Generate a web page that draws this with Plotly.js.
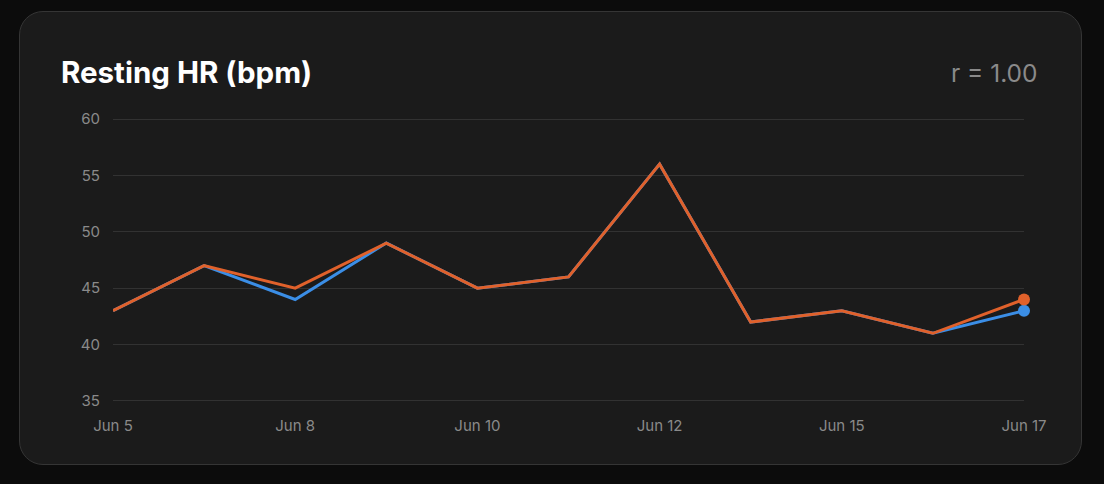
<!DOCTYPE html>
<html>
<head>
<meta charset="utf-8">
<script src="https://cdn.plot.ly/plotly-3.0.1.min.js"></script>
<style>
  html, body { margin: 0; padding: 0; background: #0c0c0c; width: 1104px; height: 484px; overflow: hidden; }
  #card {
    position: absolute; left: 19px; top: 11px; width: 1061px; height: 452px;
    background: #1b1b1b; border: 1.5px solid #353535; border-radius: 24px;
  }
  #plot { position: absolute; left: 0; top: 0; width: 1104px; height: 484px; }
</style>
</head>
<body>
<div id="card"></div>
<div id="plot"></div>
<script>
// dates shown in the series (gaps in the calendar are skipped)
const days = ["Jun 5", "Jun 6", "Jun 8", "Jun 9", "Jun 10", "Jun 11", "Jun 12", "Jun 13", "Jun 15", "Jun 16", "Jun 17"];
const tickDays = ["Jun 5", "Jun 8", "Jun 10", "Jun 12", "Jun 15", "Jun 17"];

const blueHR   = [43, 47, 44, 49, 45, 46, 56, 42, 43, 41, 43];
const orangeHR = [43, 47, 45, 49, 45, 46, 56, 42, 43, 41, 44];

const corrText = "r = 1.00";

const BLUE = "#3b8ee6";
const ORANGE = "#e0612b";

function lastDot(arr) {
  return arr.map((_, i) => (i === arr.length - 1 ? 12 : 0));
}

const traces = [
  {
    x: days, y: blueHR, type: "scatter", mode: "lines+markers",
    line: { color: BLUE, width: 3 },
    marker: { color: BLUE, size: lastDot(blueHR), line: { width: 0 }, opacity: 1 },
    cliponaxis: false,
    hoverinfo: "skip"
  },
  {
    x: days, y: orangeHR, type: "scatter", mode: "lines+markers",
    line: { color: ORANGE, width: 3 },
    marker: { color: ORANGE, size: lastDot(orangeHR), line: { width: 0 }, opacity: 1 },
    cliponaxis: false,
    hoverinfo: "skip"
  }
];

const layout = {
  width: 1104, height: 484,
  margin: { l: 113, r: 80, t: 117, b: 81 },
  paper_bgcolor: "rgba(0,0,0,0)",
  plot_bgcolor: "rgba(0,0,0,0)",
  showlegend: false,
  font: { family: "Inter, 'Noto Sans', sans-serif", color: "#8a8a8a", size: 15 },
  xaxis: {
    type: "category",
    categoryorder: "array", categoryarray: days,
    range: [0, days.length - 1],
    tickvals: tickDays,
    showgrid: false, zeroline: false, showline: false,
    ticks: "", ticklabelstandoff: 12,
    tickfont: { size: 15, color: "#8a8a8a" },
    fixedrange: true
  },
  yaxis: {
    range: [34.82, 60.18], dtick: 5, tick0: 35,
    showgrid: true, gridcolor: "#323232", gridwidth: 1,
    zeroline: false, showline: false,
    ticks: "", ticklabelstandoff: 12,
    tickfont: { size: 15, color: "#8a8a8a" },
    fixedrange: true
  },
  annotations: [
    {
      text: "<b>Resting HR (bpm)</b>",
      xref: "paper", yref: "paper",
      x: (59 - 113) / 915, y: (403 - 72) / 286,
      xanchor: "left", yanchor: "middle", showarrow: false,
      font: { size: 29.5, color: "#ffffff", family: "Inter, 'Noto Sans', sans-serif" }
    },
    {
      text: corrText,
      xref: "paper", yref: "paper",
      x: (1040 - 113) / 911, y: (403 - 73) / 286,
      xanchor: "right", yanchor: "middle", showarrow: false,
      font: { size: 24.5, color: "#8a8a8a", family: "Inter, 'Noto Sans', sans-serif" }
    }
  ]
};

Plotly.newPlot("plot", traces, layout, { displayModeBar: false, staticPlot: true });
</script>
</body>
</html>
